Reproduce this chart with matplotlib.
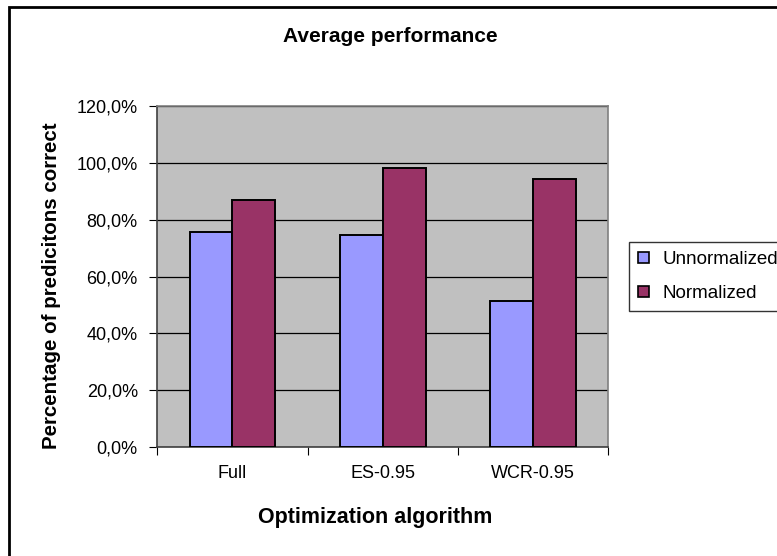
import matplotlib
matplotlib.use("Agg")
import matplotlib.pyplot as plt
from matplotlib.patches import Rectangle, Patch
from matplotlib.ticker import FuncFormatter, MultipleLocator
import numpy as np

plt.rcParams['font.family'] = ['Liberation Sans', 'DejaVu Sans']

algorithms = ["Full", "ES-0.95", "WCR-0.95"]
unnormalized = [75.7, 74.5, 51.3]
normalized = [86.9, 98.2, 94.2]
series_names = ["Unnormalized", "Normalized"]
series_colors = ["#9999FF", "#993366"]

W, H = 777, 556
fig = plt.figure(figsize=(W / 100, H / 100), dpi=100)
fig.patch.set_facecolor("white")

# chart frame (only left/top edges fall inside the canvas)
fig.patches.append(Rectangle((8.5 / W, -0.1), 1.2, 1 - 6.5 / H + 0.1, transform=fig.transFigure,
                             fill=False, edgecolor="black", lw=2))

x0, x1, yt, yb = 157.3, 608.3, 105.7, 447.3
ax = fig.add_axes([x0 / W, 1 - yb / H, (x1 - x0) / W, (yb - yt) / H])
ax.set_facecolor("#C0C0C0")

x = np.arange(len(algorithms))
bw = 1 / 3.5
for i, (vals, c) in enumerate(zip([unnormalized, normalized], series_colors)):
    ax.bar(x + (i - 0.5) * bw, vals, bw, color=c, edgecolor="black", lw=1.4, zorder=3)

ax.set_xlim(-0.5, len(algorithms) - 0.5)
ax.set_ylim(0, 120)
ax.yaxis.set_major_locator(MultipleLocator(20))
ax.yaxis.set_major_formatter(FuncFormatter(lambda v, p: f"{v:.1f}%".replace(".", ",")))
ax.yaxis.grid(True, color="black", lw=0.9, zorder=1)
ax.set_axisbelow(True)

ax.set_xticks(np.arange(len(algorithms) + 1) - 0.5, minor=False)
ax.set_xticklabels([])
ax.set_xticks(x, minor=True)
ax.set_xticklabels(algorithms, minor=True)
ax.tick_params(axis="x", which="minor", length=0, pad=13, labelsize=13)
ax.tick_params(axis="x", which="major", length=6, direction="out", color="black")
ax.tick_params(axis="y", length=6, direction="out", pad=8, labelsize=13)

for s in ["left", "bottom"]:
    ax.spines[s].set_color("#404040")
    ax.spines[s].set_linewidth(1.2)
for s in ["top", "right"]:
    ax.spines[s].set_color("#808080")
    ax.spines[s].set_linewidth(1.2)

fig.text(390 / W, 1 - 37 / H, "Average performance", ha="center", va="center",
         fontsize=15, fontweight="bold")
fig.text(375 / W, 1 - 518 / H, "Optimization algorithm", ha="center", va="center",
         fontsize=15.5, fontweight="bold")
fig.text(52 / W, 1 - 286 / H, "Percentage of predicitons correct", ha="center", va="center",
         rotation=90, fontsize=14.8, fontweight="bold")

handles = [Patch(facecolor=c, edgecolor="black", lw=1.2) for c in series_colors]
leg = fig.legend(handles, series_names, loc="upper left",
                 bbox_to_anchor=(629 / W, 1 - 241.7 / H), fontsize=13.5,
                 handlelength=0.55, handleheight=0.55, handletextpad=0.75,
                 borderpad=0.5, labelspacing=0.9, borderaxespad=0, fancybox=False)
leg.get_frame().set_edgecolor("black")
leg.get_frame().set_linewidth(1.0)

fig.savefig("out.png", dpi=100)
